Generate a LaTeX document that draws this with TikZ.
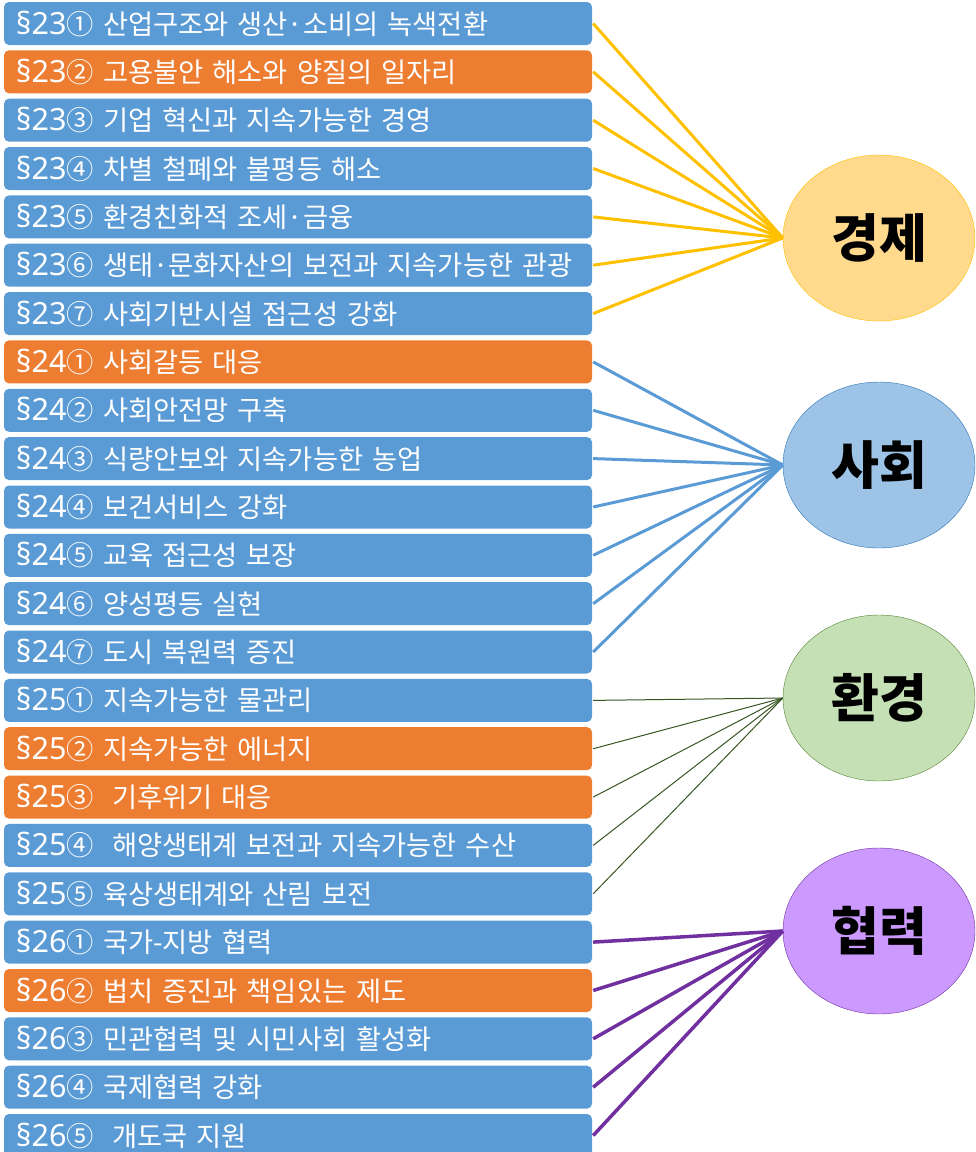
\documentclass[tikz,border=0pt]{standalone}
\usepackage{fontspec}
\setmainfont{Noto Sans CJK KR}
\newfontfamily\latinsf[Scale=1.12]{Noto Sans}
\usetikzlibrary{shapes.geometric}

\definecolor{boxblue}{HTML}{5B9BD5}
\definecolor{boxorange}{HTML}{ED7D31}
\definecolor{econfill}{HTML}{FFD98C}
\definecolor{econline}{HTML}{FFC000}
\definecolor{socfill}{HTML}{9DC3E6}
\definecolor{socline}{HTML}{5B9BD5}
\definecolor{socdraw}{HTML}{2E75B6}
\definecolor{envfill}{HTML}{C5E0B4}
\definecolor{envdraw}{HTML}{548235}
\definecolor{envline}{HTML}{375623}
\definecolor{coopfill}{HTML}{CC99FF}
\definecolor{coopline}{HTML}{7030A0}

\newcommand{\art}[1]{{\latinsf\S#1}}

\begin{document}
\begin{tikzpicture}[x=1pt,y=-1pt,
        item/.style={rectangle,rounded corners=5pt,fill=boxblue,text=white,
            minimum width=588pt,minimum height=43pt,text width=564pt,
            align=left,inner sep=0pt,font=\fontsize{27.3}{30}\selectfont},
        hot/.style={item,fill=boxorange},
        goal/.style={ellipse,minimum width=192pt,minimum height=166pt,
            inner sep=0pt,font=\fontsize{52}{56}\selectfont\bfseries}]
\useasboundingbox (0,0) rectangle (976,1152);

% article 23
\node[item] (a1) at (298,23.5) {\art{23}① 산업구조와 생산·소비의 녹색전환};
\node[hot]  (a2) at (298,71.8) {\art{23}② 고용불안 해소와 양질의 일자리};
\node[item] (a3) at (298,120.2) {\art{23}③ 기업 혁신과 지속가능한 경영};
\node[item] (a4) at (298,168.5) {\art{23}④ 차별 철폐와 불평등 해소};
\node[item] (a5) at (298,216.9) {\art{23}⑤ 환경친화적 조세·금융};
\node[item] (a6) at (298,265.2) {\art{23}⑥ 생태·문화자산의 보전과 지속가능한 관광};
\node[item] (a7) at (298,313.6) {\art{23}⑦ 사회기반시설 접근성 강화};
% article 24
\node[hot]  (b1) at (298,361.9) {\art{24}① 사회갈등 대응};
\node[item] (b2) at (298,410.3) {\art{24}② 사회안전망 구축};
\node[item] (b3) at (298,458.6) {\art{24}③ 식량안보와 지속가능한 농업};
\node[item] (b4) at (298,507.0) {\art{24}④ 보건서비스 강화};
\node[item] (b5) at (298,555.3) {\art{24}⑤ 교육 접근성 보장};
\node[item] (b6) at (298,603.7) {\art{24}⑥ 양성평등 실현};
\node[item] (b7) at (298,652.0) {\art{24}⑦ 도시 복원력 증진};
% article 25
\node[item] (c1) at (298,700.4) {\art{25}① 지속가능한 물관리};
\node[hot]  (c2) at (298,748.7) {\art{25}② 지속가능한 에너지};
\node[hot]  (c3) at (298,797.1) {\art{25}③~ 기후위기 대응};
\node[item] (c4) at (298,845.4) {\art{25}④~ 해양생태계 보전과 지속가능한 수산};
\node[item] (c5) at (298,893.8) {\art{25}⑤ 육상생태계와 산림 보전};
% article 26
\node[item] (d1) at (298,942.1) {\art{26}① 국가-지방 협력};
\node[hot]  (d2) at (298,990.5) {\art{26}② 법치 증진과 책임있는 제도};
\node[item] (d3) at (298,1038.8) {\art{26}③ 민관협력 및 시민사회 활성화};
\node[item] (d4) at (298,1087.2) {\art{26}④ 국제협력 강화};
\node[item] (d5) at (298,1135.5) {\art{26}⑤~ 개도국 지원};

\node[goal,fill=econfill,draw=econline] (econ) at (879,238) {경제};
\node[goal,fill=socfill,draw=socdraw]   (soc)  at (879,465) {사회};
\node[goal,fill=envfill,draw=envdraw]   (env)  at (879,698) {환경};
\node[goal,fill=coopfill,draw=coopline] (coop) at (879,931) {협력};

\foreach \n in {a1,a2,a3,a4,a5,a6,a7}
    \draw[econline,line width=3pt] ([xshift=1pt]\n.east) -- (econ.west);
\foreach \n in {b1,b2,b3,b4,b5,b6,b7}
    \draw[socline,line width=3pt] ([xshift=1pt]\n.east) -- (soc.west);
\foreach \n in {c1,c2,c3,c4,c5}
    \draw[envline,line width=1pt] ([xshift=1pt]\n.east) -- (env.west);
\foreach \n in {d1,d2,d3,d4,d5}
    \draw[coopline,line width=3.5pt] ([xshift=1pt]\n.east) -- (coop.west);
\end{tikzpicture}
\end{document}
